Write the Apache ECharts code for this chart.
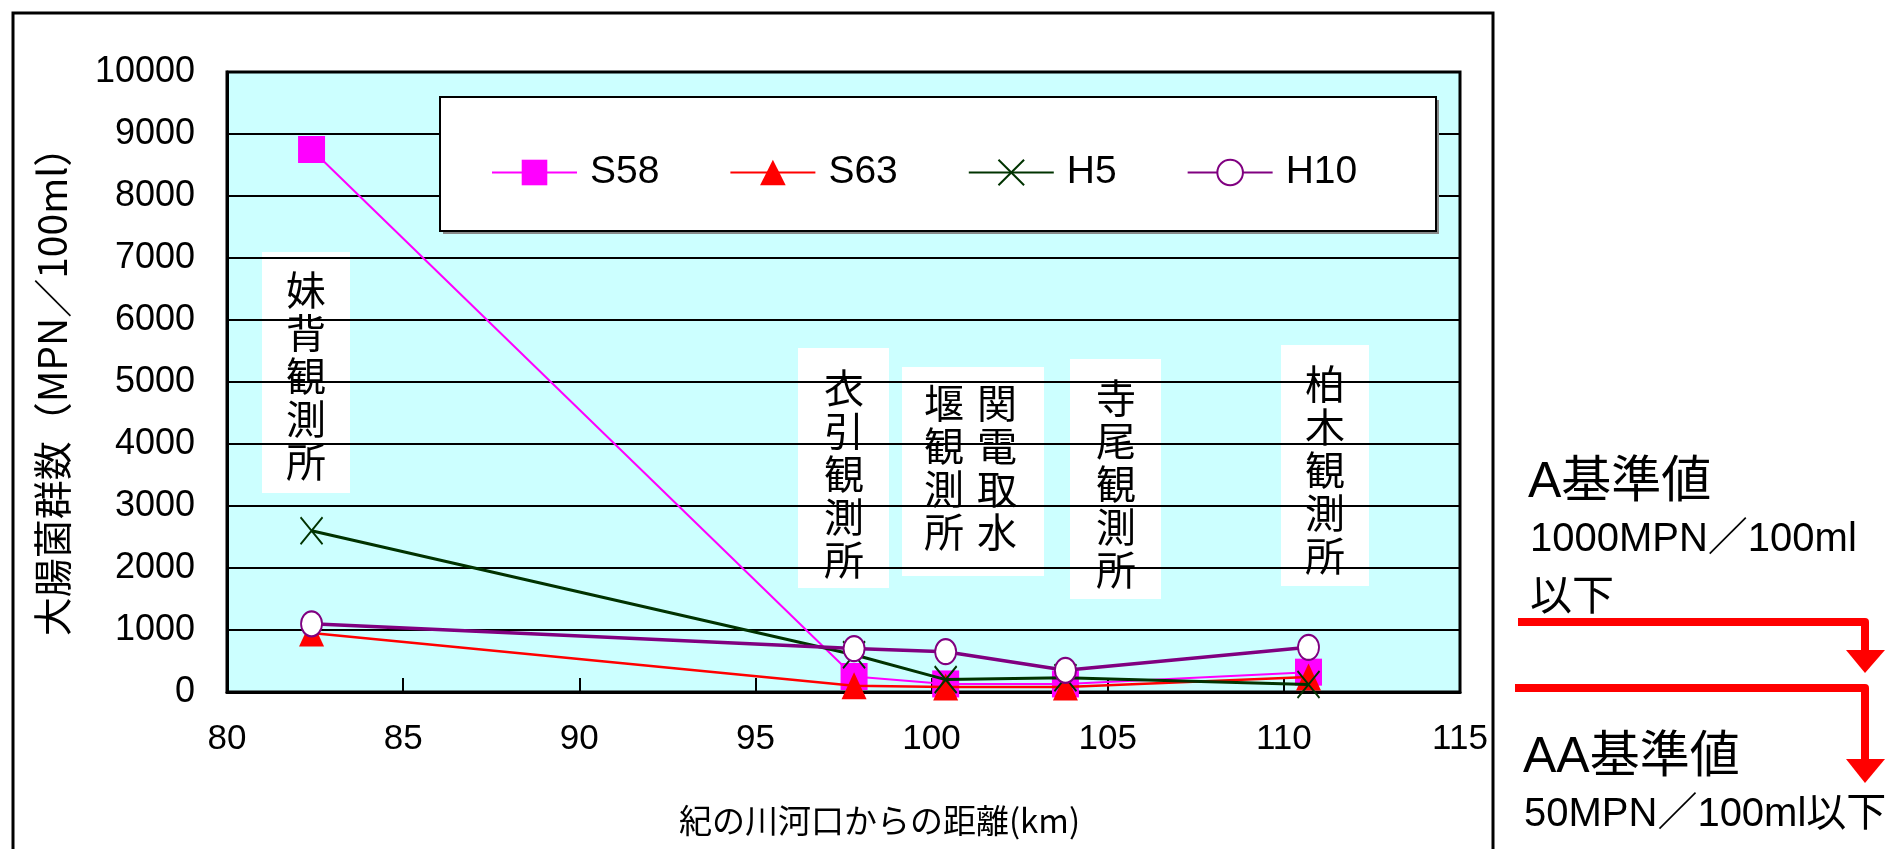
<!DOCTYPE html>
<html>
<head>
<meta charset="utf-8">
<script src="https://cdn.jsdelivr.net/npm/echarts@6/dist/echarts.min.js"></script>
<style>
  html, body { margin: 0; padding: 0; background: #fff; }
  #chart { width: 1903px; height: 849px; }
</style>
</head>
<body>
<div id="chart"></div>
<script>
// 紀の川河口からの距離(km)
const distances = [82.4, 97.8, 100.4, 103.8, 110.7];
const seriesNames = ["S58", "S63", "H5", "H10"];
const s58 = [8750, 250, 130, 130, 320];
const s63 = [950, 100, 80, 80, 240];
const h5 = [2600, 600, 200, 230, 120];
const h10 = [1100, 700, 650, 350, 720];
const stations = ["妹背観測所", "衣引観測所", "関電取水", "堰観測所", "寺尾観測所", "柏木観測所"];

const FONT_NUM = "'Liberation Sans', 'Noto Sans CJK JP', sans-serif";
const FONT_JP = "'Noto Sans CJK JP', 'Liberation Sans', sans-serif";

function pairs(vals) {
  return distances.map((d, i) => [d, vals[i]]);
}

function vertical(s) {
  return s.split("").join("\n");
}

// white box with vertical station name
function stationBox(x, y, w, h, cols) {
  const children = [{
    type: "rect",
    shape: { x: 0, y: 0, width: w, height: h },
    style: { fill: "#fff" }
  }];
  cols.forEach(c => {
    children.push({
      type: "text",
      x: c.x,
      y: c.y,
      style: {
        text: vertical(c.text),
        font: "40px " + FONT_JP,
        lineHeight: 43,
        fill: "#000",
        align: "center",
        verticalAlign: "top"
      }
    });
  });
  return { type: "group", x: x, y: y, z: 50, children: children };
}

const chart = echarts.init(document.getElementById("chart"));

const option = {
  backgroundColor: "#fff",
  animation: false,
  grid: {
    left: 227,
    right: 443,
    top: 72,
    bottom: 157,
    show: true,
    backgroundColor: "#CCFFFF",
    borderColor: "#000",
    borderWidth: 3
  },
  xAxis: {
    type: "value",
    min: 80,
    max: 115,
    interval: 5,
    name: "紀の川河口からの距離(km)",
    nameLocation: "middle",
    nameGap: 112,
    nameTextStyle: { fontFamily: FONT_JP, fontSize: 33, color: "#000", padding: [0, 0, 0, 72] },
    axisLine: { show: true, lineStyle: { color: "#000", width: 3 } },
    axisTick: { show: true, inside: true, length: 14, lineStyle: { color: "#000", width: 2 } },
    axisLabel: { margin: 30, fontFamily: FONT_NUM, fontSize: 35, color: "#000" },
    splitLine: { show: false }
  },
  yAxis: {
    type: "value",
    min: 0,
    max: 10000,
    interval: 1000,
    name: "大腸菌群数（MPN／100ml）",
    nameLocation: "middle",
    nameRotate: 90,
    nameGap: 155,
    nameTextStyle: { fontFamily: FONT_JP, fontSize: 39, color: "#000" },
    axisLine: { show: true, lineStyle: { color: "#000", width: 3 } },
    axisTick: { show: true, inside: true, length: 10, lineStyle: { color: "#000", width: 2 } },
    axisLabel: { margin: 32, fontFamily: FONT_NUM, fontSize: 36, color: "#000", formatter: v => String(v) },
    splitLine: { show: true, lineStyle: { color: "#000", width: 2 } }
  },
  legend: {
    left: 486,
    top: 148,
    itemWidth: 85,
    itemHeight: 32,
    itemGap: 70,
    data: seriesNames,
    textStyle: { fontFamily: FONT_NUM, fontSize: 39, color: "#000", padding: [0, 0, 0, 8] }
  },
  series: [
    {
      name: "S58",
      type: "line",
      data: pairs(s58),
      symbol: "rect",
      symbolSize: [27, 27],
      lineStyle: { color: "#FF00FF", width: 2 },
      itemStyle: { color: "#FF00FF" },
      z: 3
    },
    {
      name: "S63",
      type: "line",
      data: pairs(s63),
      symbol: "triangle",
      symbolSize: [25, 27],
      lineStyle: { color: "#FF0000", width: 2.5 },
      itemStyle: { color: "#FF0000" },
      z: 4
    },
    {
      name: "H5",
      type: "line",
      data: pairs(h5),
      symbol: "path://M0,0L10,12M10,0L0,12",
      symbolSize: [22, 27],
      lineStyle: { color: "#003300", width: 3 },
      itemStyle: { color: "transparent", borderColor: "#003300", borderWidth: 2 },
      z: 5
    },
    {
      name: "H10",
      type: "line",
      data: pairs(h10),
      symbol: "circle",
      symbolSize: [21, 25],
      lineStyle: { color: "#800080", width: 3.5 },
      itemStyle: { color: "#fff", borderColor: "#800080", borderWidth: 2 },
      z: 6
    }
  ],
  graphic: [
    // outer frame
    { type: "polyline", z: 60, shape: { points: [[13, 849], [13, 13], [1493, 13], [1493, 849]] },
      style: { stroke: "#000", lineWidth: 3, fill: null } },
    // legend box
    { type: "rect", z: 1, shape: { x: 443, y: 100, width: 996, height: 134 }, style: { fill: "#888" } },
    { type: "rect", z: 2, shape: { x: 440, y: 97, width: 996, height: 134 },
      style: { fill: "#fff", stroke: "#000", lineWidth: 2 } },
    // station labels
    stationBox(262, 252, 88, 241, [{ x: 44, y: 16, text: stations[0] }]),
    stationBox(798, 348, 91, 240, [{ x: 46, y: 18, text: stations[1] }]),
    stationBox(902, 367, 142, 209, [{ x: 95, y: 14, text: stations[2] }, { x: 42, y: 14, text: stations[3] }]),
    stationBox(1070, 359, 91, 240, [{ x: 46, y: 17, text: stations[4] }]),
    stationBox(1281, 345, 88, 241, [{ x: 44, y: 17, text: stations[5] }]),
    // 基準値 notes
    { type: "text", x: 1528, y: 458, z: 60,
      style: { text: "A基準値", font: "50px " + FONT_NUM, fill: "#000" } },
    { type: "text", x: 1530, y: 520, z: 60,
      style: { text: "1000MPN／100ml", font: "40px " + FONT_NUM, fill: "#000" } },
    { type: "text", x: 1530, y: 573, z: 60,
      style: { text: "以下", font: "42px " + FONT_JP, fill: "#000" } },
    { type: "text", x: 1523, y: 733, z: 60,
      style: { text: "AA基準値", font: "50px " + FONT_NUM, fill: "#000" } },
    { type: "text", x: 1524, y: 795, z: 60,
      style: { text: "50MPN／100ml以下", font: "40px " + FONT_NUM, fill: "#000" } },
    // red arrows
    { type: "polyline", z: 60, shape: { points: [[1518, 622], [1865, 622], [1865, 654]] },
      style: { stroke: "#FF0000", lineWidth: 8, fill: null, lineJoin: "round" } },
    { type: "polygon", z: 60, shape: { points: [[1846, 650], [1885, 650], [1865, 673]] },
      style: { fill: "#FF0000" } },
    { type: "polyline", z: 60, shape: { points: [[1515, 688], [1865, 688], [1865, 762]] },
      style: { stroke: "#FF0000", lineWidth: 8, fill: null, lineJoin: "round" } },
    { type: "polygon", z: 60, shape: { points: [[1846, 759], [1885, 759], [1865, 783]] },
      style: { fill: "#FF0000" } }
  ]
};

chart.setOption(option);
</script>
</body>
</html>
